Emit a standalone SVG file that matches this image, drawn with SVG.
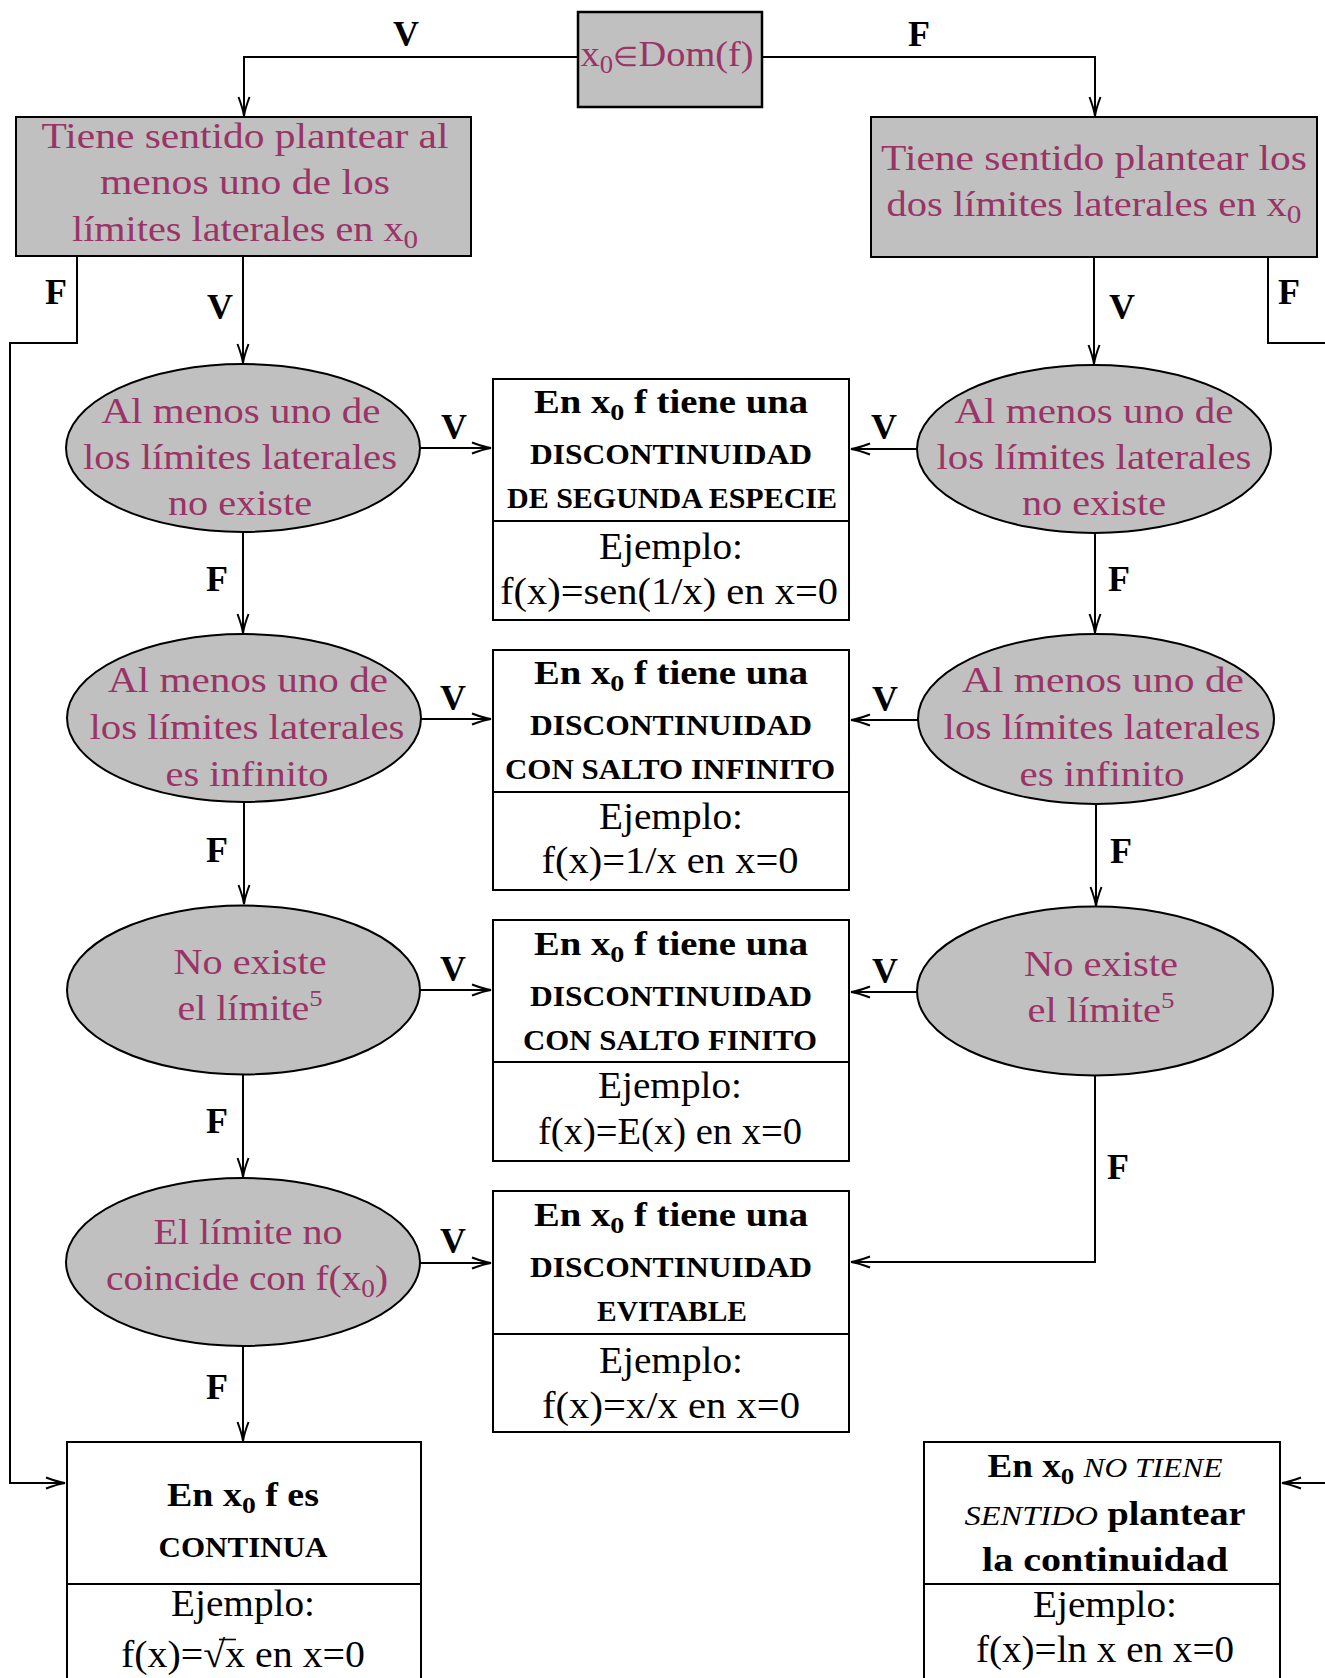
<svg xmlns="http://www.w3.org/2000/svg" width="1325" height="1678" viewBox="0 0 1325 1678">
<style>
text{font-family:"Liberation Serif","Times New Roman",serif;text-anchor:middle}
.p{fill:#9a3366;font-size:36px}
.h{fill:#000;font-weight:bold;font-size:33px}
.c{fill:#000;font-weight:bold;font-size:30px}
.r{fill:#000;font-size:38px}
.l{fill:#000;font-weight:bold;font-size:36px}
.it{font-style:italic;font-weight:normal;font-size:28px}
.g{fill:#c0c0c0;stroke:#000;stroke-width:2}
.w{fill:#fff;stroke:#000;stroke-width:2}
.e{fill:none;stroke:#000;stroke-width:2}
</style>
<defs>
<marker id="ar" viewBox="-22 -8 24 16" markerWidth="24" markerHeight="16" refX="0" refY="0" orient="auto" markerUnits="userSpaceOnUse">
<path d="M-19,-5.5 Q-7,-1 0,0 Q-7,1 -19,5.5" fill="none" stroke="#000" stroke-width="2"/>
</marker>
</defs>

<g id="connectors">
<path class="e" d="M578,57 H244 V116" marker-end="url(#ar)"/>
<path class="e" d="M762,57 H1095 V116" marker-end="url(#ar)"/>
<path class="e" d="M243,256 V363" marker-end="url(#ar)"/>
<path class="e" d="M77,256 V343 H10 V1483 H65" marker-end="url(#ar)"/>
<path class="e" d="M1094,257 V364" marker-end="url(#ar)"/>
<path class="e" d="M1268,257 V343 H1326"/>
<path class="e" d="M420,448 H491" marker-end="url(#ar)"/>
<path class="e" d="M917,449 H851" marker-end="url(#ar)"/>
<path class="e" d="M243,532 V633" marker-end="url(#ar)"/>
<path class="e" d="M1095,533 V633" marker-end="url(#ar)"/>
<path class="e" d="M421,719 H491" marker-end="url(#ar)"/>
<path class="e" d="M918,720 H851" marker-end="url(#ar)"/>
<path class="e" d="M244,803 V904" marker-end="url(#ar)"/>
<path class="e" d="M1096,804 V906" marker-end="url(#ar)"/>
<path class="e" d="M420,990 H491" marker-end="url(#ar)"/>
<path class="e" d="M917,992 H851" marker-end="url(#ar)"/>
<path class="e" d="M243,1075 V1177" marker-end="url(#ar)"/>
<path class="e" d="M1095,1076 V1262 H851" marker-end="url(#ar)"/>
<path class="e" d="M420,1263 H491" marker-end="url(#ar)"/>
<path class="e" d="M243,1346 V1441" marker-end="url(#ar)"/>
<path class="e" d="M1326,1483 H1282" marker-end="url(#ar)"/>
<text class="l" x="406" y="46">V</text>
<text class="l" x="919" y="46">F</text>
<text class="l" x="56" y="304">F</text>
<text class="l" x="220" y="319">V</text>
<text class="l" x="1122" y="319">V</text>
<text class="l" x="1289" y="304">F</text>
<text class="l" x="454" y="439">V</text>
<text class="l" x="884" y="439">V</text>
<text class="l" x="217" y="591">F</text>
<text class="l" x="1119" y="591">F</text>
<text class="l" x="453" y="710">V</text>
<text class="l" x="885" y="711">V</text>
<text class="l" x="217" y="862">F</text>
<text class="l" x="1121" y="863">F</text>
<text class="l" x="453" y="981">V</text>
<text class="l" x="885" y="983">V</text>
<text class="l" x="217" y="1133">F</text>
<text class="l" x="1118" y="1179">F</text>
<text class="l" x="453" y="1253">V</text>
<text class="l" x="217" y="1399">F</text>
</g>

<g id="n-dom">
<rect class="g" x="578" y="12" width="184" height="95" style="stroke-width:2.5"/>
<text class="p" x="667" y="66" textLength="173" lengthAdjust="spacingAndGlyphs">x<tspan dy="7" font-size="25">0</tspan><tspan dy="-7" font-size="27">∈</tspan><tspan>Dom(f)</tspan></text>
</g>

<g id="n-left">
<rect class="g" x="16" y="117" width="455" height="139"/>
<text class="p" x="245" y="148" font-size="37" textLength="407" lengthAdjust="spacingAndGlyphs">Tiene sentido plantear al</text>
<text class="p" x="245" y="194" font-size="37" textLength="290" lengthAdjust="spacingAndGlyphs">menos uno de los</text>
<text class="p" x="245" y="241" font-size="37" textLength="346" lengthAdjust="spacingAndGlyphs">límites laterales en x<tspan dy="7" font-size="26">0</tspan></text>
</g>

<g id="n-right">
<rect class="g" x="871" y="117" width="446" height="140"/>
<text class="p" x="1094" y="170" font-size="37" textLength="426" lengthAdjust="spacingAndGlyphs">Tiene sentido plantear los</text>
<text class="p" x="1094" y="216" font-size="37" textLength="415" lengthAdjust="spacingAndGlyphs">dos límites laterales en x<tspan dy="7" font-size="26">0</tspan></text>
</g>

<g id="n-e1l">
<ellipse class="g" cx="243" cy="448" rx="177" ry="84"/>
<text class="p" x="241" y="423" textLength="279" lengthAdjust="spacingAndGlyphs">Al menos uno de</text>
<text class="p" x="240" y="469" textLength="314" lengthAdjust="spacingAndGlyphs">los límites laterales</text>
<text class="p" x="240" y="515" textLength="144" lengthAdjust="spacingAndGlyphs">no existe</text>
</g>
<g id="n-e1r">
<ellipse class="g" cx="1094" cy="449" rx="177" ry="84"/>
<text class="p" x="1094" y="423" textLength="279" lengthAdjust="spacingAndGlyphs">Al menos uno de</text>
<text class="p" x="1094" y="469" textLength="315" lengthAdjust="spacingAndGlyphs">los límites laterales</text>
<text class="p" x="1094" y="515" textLength="144" lengthAdjust="spacingAndGlyphs">no existe</text>
</g>
<g id="n-e2l">
<ellipse class="g" cx="244" cy="718" rx="177" ry="84"/>
<text class="p" x="248" y="692" textLength="280" lengthAdjust="spacingAndGlyphs">Al menos uno de</text>
<text class="p" x="247" y="739" textLength="315" lengthAdjust="spacingAndGlyphs">los límites laterales</text>
<text class="p" x="247" y="786" textLength="163" lengthAdjust="spacingAndGlyphs">es infinito</text>
</g>
<g id="n-e2r">
<ellipse class="g" cx="1096" cy="719" rx="178" ry="85"/>
<text class="p" x="1103" y="692" textLength="282" lengthAdjust="spacingAndGlyphs">Al menos uno de</text>
<text class="p" x="1102" y="739" textLength="317" lengthAdjust="spacingAndGlyphs">los límites laterales</text>
<text class="p" x="1102" y="786" textLength="165" lengthAdjust="spacingAndGlyphs">es infinito</text>
</g>
<g id="n-e3l">
<ellipse class="g" cx="243.5" cy="990" rx="176.5" ry="84.5"/>
<text class="p" x="250" y="974" textLength="153" lengthAdjust="spacingAndGlyphs">No existe</text>
<text class="p" x="250" y="1020" textLength="145" lengthAdjust="spacingAndGlyphs">el límite<tspan dy="-14" font-size="24">5</tspan></text>
</g>
<g id="n-e3r">
<ellipse class="g" cx="1095" cy="991" rx="178" ry="84.5"/>
<text class="p" x="1101" y="976" textLength="154" lengthAdjust="spacingAndGlyphs">No existe</text>
<text class="p" x="1101" y="1022" textLength="147" lengthAdjust="spacingAndGlyphs">el límite<tspan dy="-14" font-size="24">5</tspan></text>
</g>
<g id="n-e4l">
<ellipse class="g" cx="243" cy="1262" rx="177" ry="84"/>
<text class="p" x="248" y="1244" textLength="189" lengthAdjust="spacingAndGlyphs">El límite no</text>
<text class="p" x="247" y="1290" textLength="282" lengthAdjust="spacingAndGlyphs">coincide con f(x<tspan dy="7" font-size="25">0</tspan><tspan dy="-7">)</tspan></text>
</g>

<g id="n-b1">
<rect class="w" x="493" y="379" width="356" height="241"/>
<path class="e" d="M493,521 H849"/>
<text class="h" x="671" y="413" textLength="274" lengthAdjust="spacingAndGlyphs">En x<tspan dy="7" font-size="24">0</tspan><tspan dy="-7"> f tiene una</tspan></text>
<text class="c" x="671" y="464" textLength="282" lengthAdjust="spacingAndGlyphs">DISCONTINUIDAD</text>
<text class="c" x="672" y="508" textLength="330" lengthAdjust="spacingAndGlyphs">DE SEGUNDA ESPECIE</text>
<text class="r" x="671" y="559" textLength="144" lengthAdjust="spacingAndGlyphs">Ejemplo:</text>
<text class="r" x="669" y="604" textLength="338" lengthAdjust="spacingAndGlyphs">f(x)=sen(1/x) en x=0</text>
</g>
<g id="n-b2">
<rect class="w" x="493" y="650" width="356" height="240"/>
<path class="e" d="M493,792 H849"/>
<text class="h" x="671" y="684" textLength="274" lengthAdjust="spacingAndGlyphs">En x<tspan dy="7" font-size="24">0</tspan><tspan dy="-7"> f tiene una</tspan></text>
<text class="c" x="671" y="735" textLength="282" lengthAdjust="spacingAndGlyphs">DISCONTINUIDAD</text>
<text class="c" x="670" y="779" textLength="330" lengthAdjust="spacingAndGlyphs">CON SALTO INFINITO</text>
<text class="r" x="671" y="829" textLength="144" lengthAdjust="spacingAndGlyphs">Ejemplo:</text>
<text class="r" x="670" y="873" textLength="257" lengthAdjust="spacingAndGlyphs">f(x)=1/x en x=0</text>
</g>
<g id="n-b3">
<rect class="w" x="493" y="920" width="356" height="241"/>
<path class="e" d="M493,1062 H849"/>
<text class="h" x="671" y="955" textLength="274" lengthAdjust="spacingAndGlyphs">En x<tspan dy="7" font-size="24">0</tspan><tspan dy="-7"> f tiene una</tspan></text>
<text class="c" x="671" y="1006" textLength="282" lengthAdjust="spacingAndGlyphs">DISCONTINUIDAD</text>
<text class="c" x="670" y="1050" textLength="294" lengthAdjust="spacingAndGlyphs">CON SALTO FINITO</text>
<text class="r" x="670" y="1098" textLength="144" lengthAdjust="spacingAndGlyphs">Ejemplo:</text>
<text class="r" x="670" y="1144" textLength="264" lengthAdjust="spacingAndGlyphs">f(x)=E(x) en x=0</text>
</g>
<g id="n-b4">
<rect class="w" x="493" y="1191" width="356" height="241"/>
<path class="e" d="M493,1334 H849"/>
<text class="h" x="671" y="1226" textLength="274" lengthAdjust="spacingAndGlyphs">En x<tspan dy="7" font-size="24">0</tspan><tspan dy="-7"> f tiene una</tspan></text>
<text class="c" x="671" y="1277" textLength="282" lengthAdjust="spacingAndGlyphs">DISCONTINUIDAD</text>
<text class="c" x="672" y="1321" textLength="150" lengthAdjust="spacingAndGlyphs">EVITABLE</text>
<text class="r" x="671" y="1373" textLength="144" lengthAdjust="spacingAndGlyphs">Ejemplo:</text>
<text class="r" x="671" y="1418" textLength="258" lengthAdjust="spacingAndGlyphs">f(x)=x/x en x=0</text>
</g>

<g id="n-cont">
<rect class="w" x="67" y="1442" width="354" height="250"/>
<path class="e" d="M67,1584 H421"/>
<text class="h" x="243" y="1506" textLength="152" lengthAdjust="spacingAndGlyphs">En x<tspan dy="7" font-size="24">0</tspan><tspan dy="-7"> f es</tspan></text>
<text class="c" x="243" y="1557" textLength="169" lengthAdjust="spacingAndGlyphs">CONTINUA</text>
<text class="r" x="243" y="1616" textLength="144" lengthAdjust="spacingAndGlyphs">Ejemplo:</text>
<text class="r" x="243" y="1667" textLength="244" lengthAdjust="spacingAndGlyphs">f(x)=√x en x=0</text>
<path d="M219,1639.5 H236" stroke="#000" stroke-width="1.6"/>
</g>

<g id="n-nosentido">
<rect class="w" x="924" y="1442" width="356" height="250"/>
<path class="e" d="M924,1584 H1280"/>
<text class="h" x="1105" y="1477" textLength="235" lengthAdjust="spacingAndGlyphs">En x<tspan dy="7" font-size="24">0</tspan><tspan dy="-7"> </tspan><tspan class="it">NO TIENE</tspan></text>
<text class="h" x="1105" y="1525" font-size="35" textLength="281" lengthAdjust="spacingAndGlyphs"><tspan class="it">SENTIDO</tspan> plantear</text>
<text class="h" x="1105" y="1571" font-size="35" textLength="246" lengthAdjust="spacingAndGlyphs">la continuidad</text>
<text class="r" x="1105" y="1617" textLength="144" lengthAdjust="spacingAndGlyphs">Ejemplo:</text>
<text class="r" x="1105" y="1662" textLength="258" lengthAdjust="spacingAndGlyphs">f(x)=ln x en x=0</text>
</g>
</svg>
